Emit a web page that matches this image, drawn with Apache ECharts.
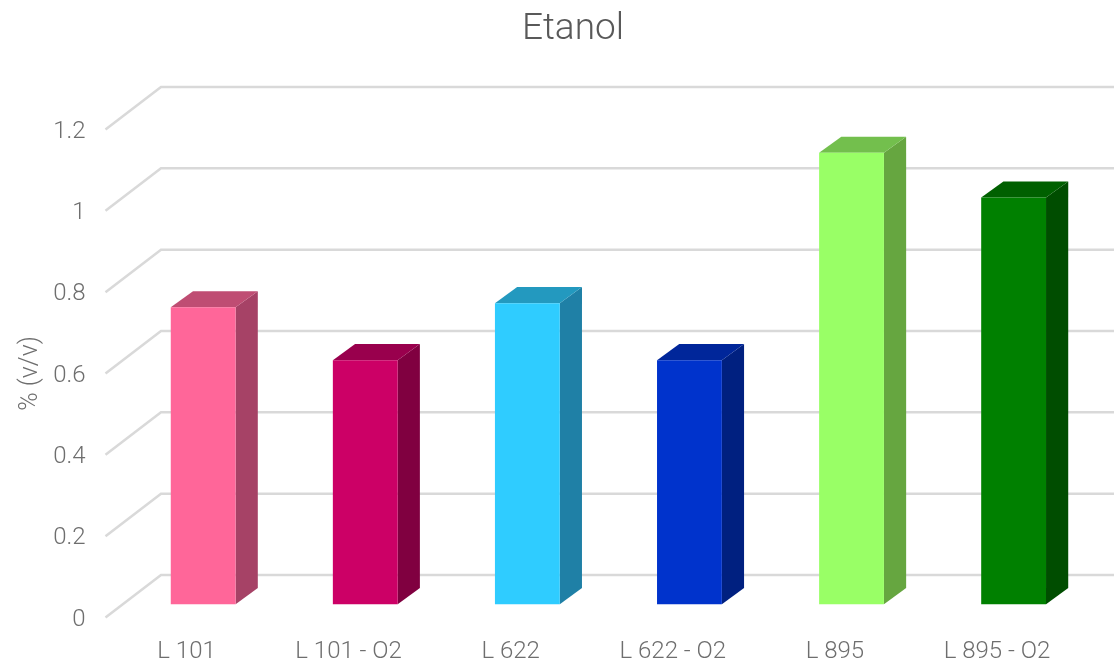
<!DOCTYPE html>
<html><head><meta charset="utf-8">
<style>html,body{margin:0;padding:0;background:#fff}#c{width:1114px;height:661px}</style>
<script src="https://cdn.jsdelivr.net/npm/echarts@6/dist/echarts.min.js"></script>
</head><body><div id="c"></div>
<script>
const categories = ['L 101','L 101 - O2','L 622','L 622 - O2','L 895','L 895 - O2'];
const values = [0.73,0.60,0.74,0.60,1.11,1.00];
const frontColors = ['#FF6699','#CC0066','#2FCCFF','#0033CC','#99FF66','#008000'];
const topColors = ['#BF4D73','#99004D','#2399BF','#00269A','#73BF4D','#006000'];
const sideColors = ['#A64266','#800040','#1F80A6','#002080','#66A640','#004D00'];
const ticks = [0,0.2,0.4,0.6,0.8,1,1.2];
const title = 'Etanol';
const yName = '% (v/v)';

const DX = 55.5, DY = 42.5;        // wall depth in pixels
const FONT = 'Roboto';
const chart = echarts.init(document.getElementById('c'));
chart.setOption({
  animation:false,
  backgroundColor:'#fff',
  title:{text:title,left:568,textAlign:'center',top:6,textStyle:{fontFamily:FONT,fontWeight:300,fontSize:37,color:'#595959'}},
  grid:{left:105.5,right:36,top:129.5,bottom:43.5,outerBoundsMode:'none'},
  xAxis:{type:'category',data:categories,axisLine:{show:false},axisTick:{show:false},splitLine:{show:false},
    axisLabel:{fontFamily:FONT,fontWeight:300,fontSize:24,color:'#6e6e6e',margin:22,interval:0}},
  yAxis:{type:'value',min:0,max:1.2,interval:0.2,name:yName,nameLocation:'middle',nameGap:62,nameMoveOverlap:false,
    nameTextStyle:{fontFamily:FONT,fontWeight:300,fontSize:25,color:'#6e6e6e'},
    axisLine:{show:false},axisTick:{show:false},splitLine:{show:false},
    axisLabel:{fontFamily:FONT,fontWeight:300,fontSize:24,color:'#6e6e6e',margin:20,verticalAlign:'top',lineHeight:4,
      formatter:v=>String(+v.toFixed(1))}},
  series:[
    {type:'custom',silent:true,z:1,clip:false,data:ticks.map(t=>[0,t]),
     renderItem(p,api){
       const y=api.coord([0,api.value(1)])[1], cs=p.coordSys;
       return {type:'polyline',shape:{points:[[cs.x,y],[cs.x+DX,y-DY],[1114,y-DY]]},
         style:{fill:'none',stroke:'#d9d9d9',lineWidth:2.5}};
     }},
    {type:'custom',silent:true,z:2,clip:false,data:values.map((v,i)=>[i,v]),
     renderItem(p,api){
       const i=api.value(0), v=api.value(1);
       const band=api.size([1,0])[0];
       const c0=api.coord([i,0]), c1=api.coord([i,v]);
       const w=band*0.4, ox=DX*0.3, oy=13.3;
       const dx=DX*0.4, dy=DY*0.38;
       const x0=c0[0]-w/2+ox, x1=x0+w, yb=c0[1]-oy, yt=c1[1]-oy;
       return {type:'group',children:[
         {type:'polygon',shape:{points:[[x1,yb],[x1+dx,yb-dy],[x1+dx,yt-dy],[x1,yt]]},style:{fill:sideColors[i]}},
         {type:'polygon',shape:{points:[[x0,yt],[x1,yt],[x1+dx,yt-dy],[x0+dx,yt-dy]]},style:{fill:topColors[i]}},
         {type:'rect',shape:{x:x0,y:yt,width:w,height:yb-yt},style:{fill:frontColors[i]}}
       ]};
     }}
  ]
});
</script></body></html>
